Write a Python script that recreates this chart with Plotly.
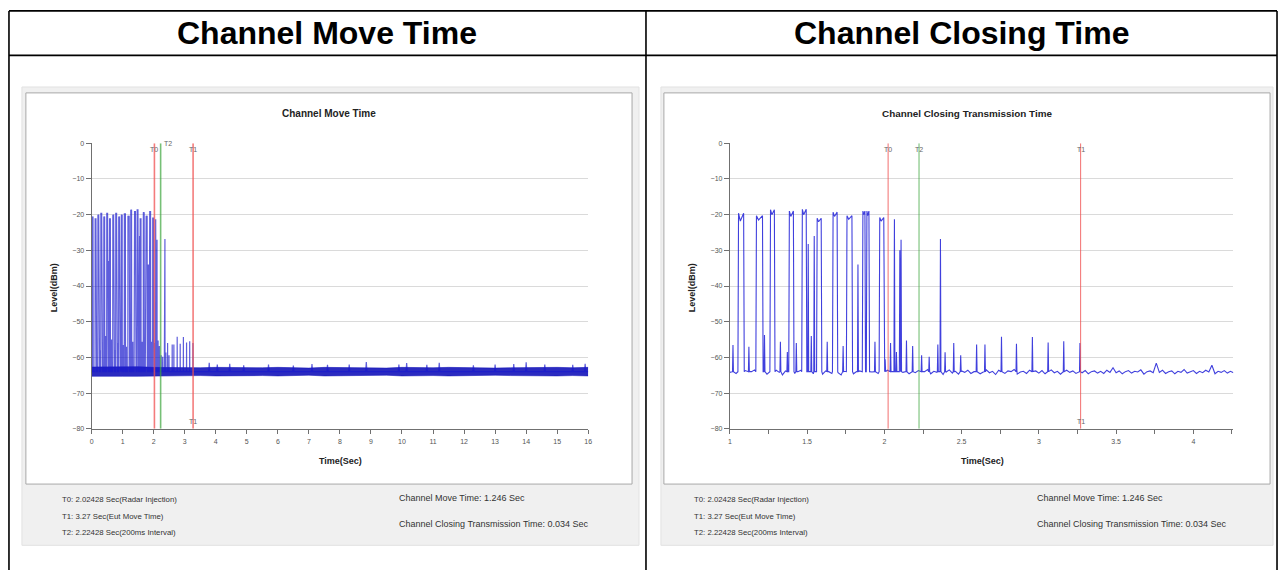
import numpy as np
import plotly.graph_objects as go

W, H = 1285, 573

# ---------------- data ----------------
T0, T1, T2 = 2.02428, 3.27, 2.22428
BASE = -64.0

# radar-burst pulses (start s, end s, top dBm, sag dBm)
PULSE_START = [0.020, 0.115, 0.205, 0.300, 0.395, 0.490, 0.580, 0.685, 0.780, 0.875, 0.960,
               1.056, 1.172, 1.263, 1.385, 1.469, 1.565, 1.668, 1.758, 1.861, 1.887, 1.970]
PULSE_END = [0.045, 0.140, 0.230, 0.325, 0.420, 0.515, 0.605, 0.710, 0.805, 0.900, 0.985,
             1.089, 1.211, 1.288, 1.411, 1.494, 1.591, 1.694, 1.790, 1.874, 1.900, 1.996]
PULSE_TOP = [-20.5, -21.0, -20.0, -19.5, -20.5, -19.5, -21.0, -20.0, -19.5, -20.5, -20.0,
             -19.6, -20.3, -18.6, -19.0, -18.5, -21.0, -19.3, -20.3, -19.0, -19.0, -20.8]
PULSE_SAG = [-21.5, -22.0, -21.5, -21.0, -21.5, -20.5, -22.0, -21.0, -20.5, -21.5, -21.0,
             -21.8, -21.5, -20.0, -20.5, -20.0, -22.0, -20.5, -21.3, -20.0, -20.3, -21.8]

# single spikes (time s, level dBm)
SPIKE_T = [0.050, 0.160, 0.250, 0.260, 0.350, 0.455, 0.535, 0.550, 0.640, 0.740, 0.830, 0.840, 0.930,
           1.020, 1.123, 1.224, 1.327, 1.372, 1.430, 1.507, 1.527, 1.546, 1.630,
           1.733, 1.829, 1.939, 2.005, 2.040, 2.065, 2.078, 2.100, 2.108, 2.143,
           2.183, 2.241, 2.290, 2.346, 2.363, 2.393, 2.449, 2.494, 2.597, 2.651,
           2.758, 2.855, 2.958, 3.060, 3.161, 3.266]
SPIKE_L = [-57, -55, -26, -58, -56, -54, -57, -33, -55, -58, -28, -56, -57,
           -56.5, -57.0, -53.7, -55.6, -58.5, -56.0, -28.2, -54.0, -26.0, -55.6,
           -56.8, -34.0, -55.6, -60.5, -56.0, -21.3, -58.5, -30.0, -27.0, -55.3,
           -56.8, -59.4, -59.8, -56.4, -26.8, -58.6, -56.0, -59.4, -56.4, -56.4,
           -54.2, -56.2, -54.3, -55.8, -55.5, -56.0]

# noise floor of the zoomed trace, 1.00 s .. 4.26 s every 0.02 s
FLOOR_START, FLOOR_STEP = 1.0, 0.02
FLOOR_R = [
    -64.2, -63.6, -64.5, -63.9, -64.8, -63.7, -64.3, -64.0, -63.5, -64.6, -64.1, -63.8, -64.7, -63.9, -64.4, -63.6, -64.2, -64.9, -63.8, -64.3,
    -63.7, -64.5, -64.0, -63.6, -64.8, -64.1, -63.9, -64.6, -63.5, -64.2, -64.7, -63.8, -64.0, -64.5, -63.6, -64.3, -64.9, -63.9, -64.1, -63.7,
    -64.6, -64.0, -63.8, -64.4, -63.5, -64.7, -64.1, -63.2, -64.5, -63.9, -64.3, -63.6, -64.8, -64.0, -63.7, -64.5, -64.2, -63.8, -64.6, -63.9,
    -64.3, -63.7, -64.5, -64.0, -63.4, -64.6, -63.9, -64.2, -63.6, -64.8, -64.1, -63.5, -64.4, -63.9, -64.7, -63.8, -64.2, -63.6, -64.5, -64.0,
    -63.7, -64.6, -64.1, -63.5, -64.3, -63.9, -64.8, -63.6, -64.2, -64.5, -63.8, -64.0, -63.4, -64.7, -64.1, -63.9, -64.5, -63.6, -64.2, -63.8,
    -64.4, -63.7, -64.6, -64.0, -63.5, -64.3, -63.9, -64.7, -64.1, -63.6, -64.2, -63.8, -64.5, -63.9, -64.3, -63.7, -64.6, -64.0, -63.8, -64.4,
    -63.9, -64.5, -63.6, -64.2, -62.9, -64.3, -63.8, -64.6, -64.0, -63.7, -64.4, -63.9, -64.1, -63.5, -64.7, -64.0, -63.8, -64.3, -61.6, -64.2,
    -63.6, -64.5, -64.0, -63.8, -64.6, -63.9, -64.2, -63.4, -64.4, -64.0, -63.7, -64.5, -63.9, -64.3, -63.6, -64.1, -62.2, -64.6, -63.9, -64.2,
    -63.7, -64.4, -63.9, -64.3]

# full-span trace: noise band envelope every 0.5 s (0..16 s)
BAND_T = [0.5 * i for i in range(33)]
BAND_UP = [-62.7, -62.6, -62.7, -62.6, -62.8, -62.9, -62.8, -62.9, -62.8, -62.9,
           -62.8, -62.9, -62.8, -62.9, -63.0, -62.8, -62.9, -62.8, -62.9, -63.0,
           -62.8, -62.9, -62.9, -62.8, -62.9, -62.8, -63.0, -62.9, -62.8, -62.9,
           -62.8, -62.9, -62.8]
BAND_LO = [-65.3, -65.4, -65.3, -65.3, -65.2, -65.1, -65.2, -65.1, -65.2, -65.1,
           -65.2, -65.1, -65.2, -65.1, -65.0, -65.2, -65.1, -65.2, -65.1, -65.0,
           -65.2, -65.1, -65.1, -65.2, -65.1, -65.2, -65.0, -65.1, -65.2, -65.1,
           -65.2, -65.1, -65.2]
BUMP_T = [3.79, 4.05, 4.45, 4.9, 5.7, 6.5, 7.1, 7.6, 8.3, 8.85, 9.9, 10.15, 10.8, 11.2,
          12.3, 13.0, 13.6, 14.0, 14.6, 15.5, 15.9]
BUMP_L = [-61.5, -62.0, -61.8, -62.2, -62.0, -62.3, -61.9, -62.1, -62.0, -61.3, -62.0,
          -61.6, -62.1, -61.5, -62.2, -62.0, -61.9, -61.4, -62.0, -62.1, -61.8]

LEFT_XTICKS = list(range(0, 17))
RIGHT_XTICKS = [1.0 + 0.25 * i for i in range(14)]
RIGHT_XLABELS = ["1", "", "1.5", "", "2", "", "2.5", "", "3", "", "3.5", "", "4", ""]
Y_TICKS = [0, -10, -20, -30, -40, -50, -60, -70, -80]

INFO_T = ["T0: 2.02428 Sec(Radar Injection)", "T1: 3.27 Sec(Eut Move Time)",
          "T2: 2.22428 Sec(200ms Interval)"]
INFO_R = ["Channel Move Time: 1.246 Sec", "Channel Closing Transmission Time: 0.034 Sec"]


# ---------------- build traces ----------------
def event_points(base):
    pts = []
    for s, e, top, sag in zip(PULSE_START, PULSE_END, PULSE_TOP, PULSE_SAG):
        pts += [(s - 0.004, base), (s, top), (s + (e - s) * 0.35, sag), (e, top), (e + 0.004, base)]
    for t, l in zip(SPIKE_T, SPIKE_L):
        pts += [(t - 0.003, base), (t, l), (t + 0.003, base)]
    return pts


windows = [(s - 0.006, e + 0.006) for s, e in zip(PULSE_START, PULSE_END)] + \
          [(t - 0.004, t + 0.004) for t in SPIKE_T]
floor_t = FLOOR_START + FLOOR_STEP * np.arange(len(FLOOR_R))
floor_pts = [(float(t), v) for t, v in zip(floor_t, FLOOR_R)
             if not any(a <= t <= b for a, b in windows)]
right_pts = sorted([p for p in event_points(BASE) if p[0] >= 0.97] + floor_pts)
rx = [p[0] for p in right_pts]
ry = [p[1] for p in right_pts]

left_pts = event_points(BASE)
for t, l in zip(BUMP_T, BUMP_L):
    left_pts += [(t - 0.02, BASE), (t, l), (t + 0.02, BASE)]
left_pts += [(0.0, BASE), (16.0, BASE)]
left_pts = sorted(left_pts)
lx = [p[0] for p in left_pts]
ly = [p[1] for p in left_pts]

FONT = "Liberation Sans, Arial, sans-serif"
TRACE_R = "rgba(30,30,215,0.85)"
TRACE_L = "rgba(25,25,205,0.7)"
BAND_C = "rgba(20,20,185,0.9)"

fig = go.Figure()
fig.add_trace(go.Scatter(x=BAND_T, y=BAND_LO, mode="lines", line=dict(color=BAND_C, width=0.6),
                         xaxis="x", yaxis="y", hoverinfo="skip"))
fig.add_trace(go.Scatter(x=BAND_T, y=BAND_UP, mode="lines", line=dict(color=BAND_C, width=0.6),
                         fill="tonexty", fillcolor=BAND_C, xaxis="x", yaxis="y", hoverinfo="skip"))
fig.add_trace(go.Scatter(x=lx, y=ly, mode="lines", line=dict(color=TRACE_L, width=1.2),
                         xaxis="x", yaxis="y"))
fig.add_trace(go.Scatter(x=rx, y=ry, mode="lines", line=dict(color=TRACE_R, width=1.1),
                         xaxis="x2", yaxis="y2"))


def px(x):
    return x / W


def py(y):
    return 1 - y / H


shapes = []
# table lines
for (x0, y0, x1, y1) in [(7, 7, 1281, 7), (7, 52, 1281, 52), (7, 7, 7, 573),
                         (647, 7, 647, 573), (1281, 7, 1281, 573)]:
    shapes.append(dict(type="line", xref="paper", yref="paper", x0=px(x0), y0=py(y0),
                       x1=px(x1), y1=py(y1), line=dict(color="#000000", width=1.6), layer="below"))
# panels
for (x0, x1) in [(20, 640), (662, 1277)]:
    shapes.append(dict(type="rect", xref="paper", yref="paper", x0=px(x0), x1=px(x1),
                       y0=py(548), y1=py(84), fillcolor="#f0f0f0",
                       line=dict(color="#e2e2e2", width=1), layer="below"))
for (x0, x1) in [(24, 633), (665, 1274)]:
    shapes.append(dict(type="rect", xref="paper", yref="paper", x0=px(x0), x1=px(x1),
                       y0=py(486), y1=py(90), fillcolor="#ffffff",
                       line=dict(color="#a8a8a8", width=1), layer="below"))
# marker lines
RED = "rgba(240,80,80,0.75)"
GREEN = "rgba(60,165,60,0.7)"
for xr, yr, wdt in [("x", "y", 1.6), ("x2", "y2", 1.1)]:
    for t, c in [(T0, RED), (T2, GREEN), (T1, RED)]:
        shapes.append(dict(type="line", xref=xr, yref=yr, x0=t, x1=t, y0=-80, y1=0,
                           line=dict(color=c, width=wdt), layer="above"))

ann = []


def text(x, y, s, size, bold=False, color="#222", xanchor="center", angle=0, xref="paper", yref="paper"):
    if xref == "paper":
        x = px(x)
    if yref == "paper":
        y = py(y)
    ann.append(dict(x=x, y=y, xref=xref, yref=yref, text=("<b>%s</b>" % s) if bold else s,
                    showarrow=False, xanchor=xanchor, yanchor="middle", textangle=angle,
                    font=dict(family=FONT, size=size, color=color)))


text(327, 29, "Channel Move Time", 32, bold=True, color="#000")
text(964, 29, "Channel Closing Time", 32, bold=True, color="#000")
text(329, 111, "Channel Move Time", 10, bold=True)
text(970, 111, "Channel Closing Transmission Time", 9.9, bold=True)
text(340, 463, "Time(Sec)", 9, bold=True)
text(985, 463, "Time(Sec)", 9, bold=True)
text(53, 287, "Level(dBm)", 9, bold=True, angle=-90)
text(694, 287, "Level(dBm)", 9, bold=True, angle=-90)

for x0 in (58, 693):
    for i, s in enumerate(INFO_T):
        text(x0, [502, 519, 535][i], s, 7.8, color="#333", xanchor="left")
for x0 in (397, 1038):
    for i, s in enumerate(INFO_R):
        text(x0, [500, 526][i], s, 9, color="#333", xanchor="left")

MK = "#666"
# left chart marker labels
text(T0, -1.7, "T0", 7, color=MK, xref="x", yref="y")
text(2.46, -0.05, "T2", 7, color=MK, xref="x", yref="y")
text(T1, -1.7, "T1", 7, color=MK, xref="x", yref="y")
text(T1, -78.0, "T1", 7, color=MK, xref="x", yref="y")
# right chart marker labels
text(T0, -1.7, "T0", 7, color=MK, xref="x2", yref="y2")
text(T2, -1.7, "T2", 7, color=MK, xref="x2", yref="y2")
text(T1, -1.7, "T1", 7, color=MK, xref="x2", yref="y2")
text(T1, -78.0, "T1", 7, color=MK, xref="x2", yref="y2")

yd = [py(430), py(141)]
axis_common = dict(showline=True, linecolor="#707070", linewidth=1, ticks="outside",
                   tickcolor="#707070", tickfont=dict(family=FONT, size=7, color="#555"),
                   zeroline=False, fixedrange=True)
fig.update_layout(
    width=W, height=H, margin=dict(l=0, r=0, t=0, b=0),
    paper_bgcolor="white", plot_bgcolor="rgba(0,0,0,0)", showlegend=False,
    xaxis=dict(domain=[px(90), px(589)], range=[0, 16], tickvals=LEFT_XTICKS, ticklen=4,
               ticklabelstandoff=2, showgrid=False, anchor="y", **axis_common),
    yaxis=dict(domain=yd, range=[-80, 0], tickvals=Y_TICKS, ticklen=5, showgrid=True,
               gridcolor="#dadada", gridwidth=1, anchor="x", **axis_common),
    xaxis2=dict(domain=[px(731.3), px(1237)], range=[1, 4.258], tickvals=RIGHT_XTICKS,
                ticktext=RIGHT_XLABELS, ticklen=4, ticklabelstandoff=2, showgrid=False,
                anchor="y2", **axis_common),
    yaxis2=dict(domain=yd, range=[-80, 0], tickvals=Y_TICKS, ticklen=5, showgrid=True,
                gridcolor="#dadada", gridwidth=1, anchor="x2", **axis_common),
    shapes=shapes, annotations=ann,
)

fig.write_html("out.html")
